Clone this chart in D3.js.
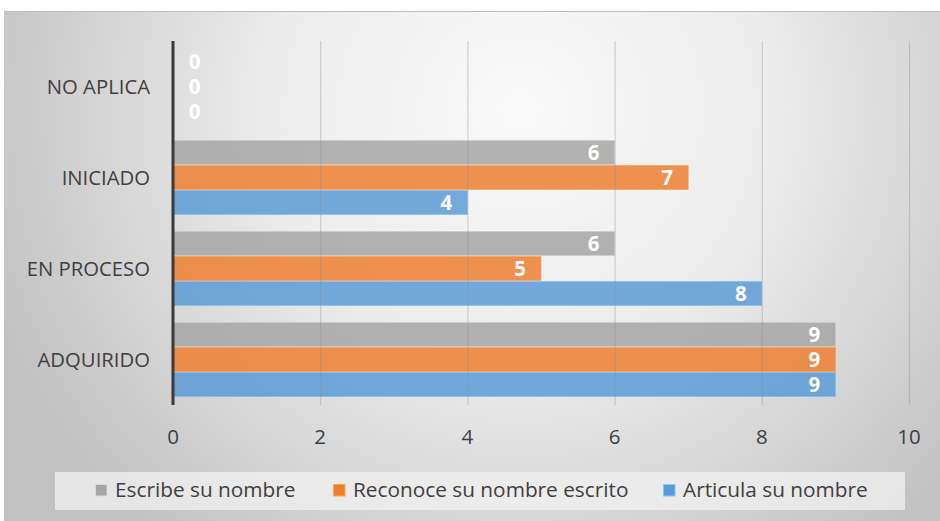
<!DOCTYPE html>
<html><head><meta charset="utf-8">
<script src="https://cdn.jsdelivr.net/npm/d3@7"></script>
<style>html,body{margin:0;padding:0;background:#fff;}svg{display:block;}</style>
</head><body>
<script>
const categories = ["NO APLICA", "INICIADO", "EN PROCESO", "ADQUIRIDO"];
const seriesNames = ["Escribe su nombre", "Reconoce su nombre escrito", "Articula su nombre"];
const escribe = [0, 6, 6, 9];
const reconoce = [0, 7, 5, 9];
const articula = [0, 4, 8, 9];
const xTicks = [0, 2, 4, 6, 8, 10];
const colors = ["#a5a5a5", "#ed7d31", "#5b9bd5"];

const seriesValues = [escribe, reconoce, articula];
const W = 940, H = 521;
const svg = d3.select("body").append("svg").attr("width", W).attr("height", H);
const defs = svg.append("defs");
const rg = defs.append("radialGradient").attr("id", "bg")
  .attr("gradientUnits", "userSpaceOnUse").attr("cx", 520).attr("cy", 110).attr("r", 560);
rg.append("stop").attr("offset", "0").attr("stop-color", "#fafafa");
rg.append("stop").attr("offset", "0.45").attr("stop-color", "#ececec");
rg.append("stop").attr("offset", "1").attr("stop-color", "#c2c2c2");

svg.append("rect").attr("x", 4).attr("y", 11).attr("width", W).attr("height", H)
  .attr("fill", "url(#bg)");
svg.append("line").attr("x1", 4).attr("x2", W).attr("y1", 11.5).attr("y2", 11.5)
  .attr("stroke", "#bdbdbd").attr("stroke-width", 1);

const font = "'Open Sans', 'Liberation Sans', sans-serif";
const x = d3.scaleLinear().domain([0, 10]).range([173, 909]);
const y0 = d3.scaleBand().domain(categories).range([41, 405]).padding(0);
const y1 = d3.scaleBand().domain(seriesNames).range([8.5, y0.bandwidth() - 8.5]).paddingInner(0.04);

// bars
const g = svg.append("g");
categories.forEach((c, ci) => {
  seriesNames.forEach((s, si) => {
    const v = seriesValues[si][ci];
    if (v > 0) {
      g.append("rect")
        .attr("x", x(0)).attr("y", y0(c) + y1(s))
        .attr("width", x(v) - x(0)).attr("height", y1.bandwidth())
        .attr("fill", colors[si]).attr("fill-opacity", 0.84)
        .attr("stroke", d3.color(colors[si]).brighter(0.6)).attr("stroke-opacity", 0.6).attr("stroke-width", 1);
    }
  });
});

// gridlines
svg.append("g").selectAll("line").data(xTicks.filter(t => t > 0)).join("line")
  .attr("x1", d => x(d) + 0.5).attr("x2", d => x(d) + 0.5)
  .attr("y1", 41).attr("y2", 405)
  .attr("stroke", "#8a8a8a").attr("stroke-opacity", 0.35).attr("stroke-width", 1.2);

// axis line at 0
svg.append("line").attr("x1", x(0)).attr("x2", x(0)).attr("y1", 41).attr("y2", 405)
  .attr("stroke", "#3a3a3a").attr("stroke-width", 3);

// x tick labels
svg.append("g").selectAll("text").data(xTicks).join("text")
  .attr("x", d => x(d)).attr("y", 444).attr("text-anchor", "middle")
  .attr("font-family", font).attr("font-size", 20.5).attr("fill", "#404040")
  .text(d => d);

// category labels
svg.append("g").selectAll("text").data(categories).join("text")
  .attr("x", 150).attr("y", d => y0(d) + y0.bandwidth() / 2 + 7).attr("text-anchor", "end")
  .attr("font-family", font).attr("font-size", 20.3).attr("fill", "#404040")
  .text(d => d);

// value labels
categories.forEach((c, ci) => {
  seriesNames.forEach((s, si) => {
    const v = seriesValues[si][ci];
    const yc = y0(c) + y1(s) + y1.bandwidth() / 2 + 7.5;
    svg.append("text")
      .attr("x", v > 0 ? x(v) - 21 : x(0) + 21.5)
      .attr("y", yc)
      .attr("text-anchor", "middle")
      .attr("font-family", font).attr("font-size", 20.5).attr("font-weight", "bold")
      .attr("fill", "#ffffff").text(v);
  });
});

// legend
svg.append("rect").attr("x", 55).attr("y", 472).attr("width", 850).attr("height", 38)
  .attr("fill", "#f2f2f2").attr("fill-opacity", 0.75);
const legX = [95, 333, 663];
seriesNames.forEach((s, i) => {
  svg.append("rect").attr("x", legX[i] + 0.5).attr("y", 484.5).attr("width", 11.5).attr("height", 11.5)
    .attr("fill", colors[i]).attr("stroke", d3.color(colors[i]).brighter(0.8)).attr("stroke-width", 1);
  svg.append("text").attr("x", legX[i] + 20).attr("y", 497)
    .attr("font-family", font).attr("font-size", 20.8).attr("fill", "#404040").text(s);
});
</script>
</body></html>
